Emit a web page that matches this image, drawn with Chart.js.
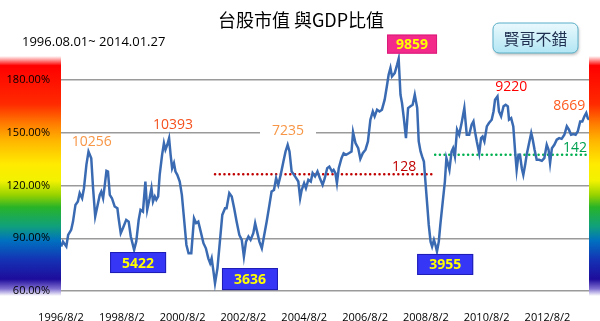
<!DOCTYPE html>
<html>
<head>
<meta charset="utf-8">
<script src="https://cdn.jsdelivr.net/npm/chart.js@4.4.0/dist/chart.umd.min.js"></script>
<style>
  html, body { margin: 0; padding: 0; background: #fff; }
  #wrap { width: 600px; height: 321px; }
</style>
</head>
<body>
<div id="wrap"><canvas id="myChart" width="600" height="321"></canvas></div>
<script>
// 日期 (以年為單位的小數) 與 台股市值/GDP 比值 (%)
const dates = [
  1996.59,1996.65,1996.76,1996.82,1996.92,1996.98,1997.06,1997.14,1997.20,1997.28,1997.34,1997.42,1997.49,1997.58,1997.64,1997.71,1997.78,1997.86,1997.91,1997.97,
  1998.02,1998.08,1998.13,1998.19,1998.26,1998.35,1998.44,1998.48,1998.55,1998.62,1998.73,1998.81,1998.88,1998.99,1999.06,1999.14,1999.20,1999.28,1999.36,1999.42,
  1999.50,1999.56,1999.61,1999.67,1999.72,1999.78,1999.83,1999.91,1999.97,2000.02,2000.08,2000.14,2000.19,2000.24,2000.30,2000.35,2000.41,2000.49,2000.56,2000.63,
  2000.71,2000.78,2000.87,
  2000.96,2001.03,2001.10,2001.18,2001.27,2001.35,2001.43,2001.49,2001.54,2001.60,2001.65,2001.73,2001.81,2001.89,2001.98,2002.03,2002.12,2002.20,2002.28,2002.36,
  2002.45,2002.53,2002.60,2002.67,2002.75,2002.82,2002.91,2002.97,2003.02,2003.11,2003.19,2003.26,2003.35,2003.44,2003.51,2003.59,2003.66,2003.73,2003.81,2003.90,
  2003.97,2004.04,2004.10,2004.17,2004.25,2004.32,2004.39,2004.45,2004.50,2004.58,2004.64,2004.72,2004.80,2004.86,2004.94,2005.02,2005.10,2005.19,
  2005.26,2005.34,2005.41,2005.50,2005.55,2005.61,2005.66,2005.72,2005.81,2005.88,2005.96,2006.05,2006.14,2006.19,2006.27,2006.36,2006.43,2006.51,2006.60,2006.68,
  2006.76,2006.84,2006.90,2006.98,2007.06,2007.14,2007.23,2007.31,2007.36,2007.42,2007.47,2007.56,2007.64,2007.69,2007.75,2007.80,2007.86,2007.93,2008.00,2008.08,
  2008.15,2008.22,2008.30,2008.35,2008.41,2008.46,2008.52,2008.57,2008.63,2008.68,2008.74,2008.79,2008.85,2008.90,2008.95,2009.01,2009.06,2009.14,2009.21,2009.26,
  2009.32,2009.36,2009.43,2009.48,2009.54,2009.61,
  2009.68,2009.77,2009.85,2009.93,2010.01,2010.09,2010.15,2010.20,2010.26,2010.34,2010.40,2010.45,2010.51,2010.59,2010.66,2010.75,2010.81,2010.86,2010.94,2010.99,
  2011.06,2011.14,2011.21,2011.28,2011.32,2011.39,2011.46,2011.52,2011.57,2011.63,2011.68,2011.74,2011.79,2011.85,2011.90,2011.98,2012.05,2012.09,2012.16,2012.23,
  2012.31,2012.40,2012.48,2012.56,2012.62,2012.67,2012.73,2012.81,2012.89,2012.97,2013.05,2013.14,2013.22,2013.29,2013.36,2013.44,2013.51,2013.58,2013.66,2013.73,
  2013.80,2013.86,2013.91,2013.95
];
const ratio = [
  85.3,88.1,85.3,91.9,94.8,99.5,109.0,110.9,115.7,112.8,118.5,131.8,139.4,135.6,118.5,102.4,108.1,114.7,116.6,112.8,
  119.5,128.4,128.0,114.7,112.8,108.1,107.1,101.4,92.9,95.7,100.5,99.5,91.0,83.4,88.1,100.5,106.2,105.2,122.3,106.2,
  112.8,118.5,110.9,113.8,111.9,113.8,126.1,137.5,144.2,140.4,143.2,147.0,137.5,129.9,132.8,128.0,126.1,122.3,114.7,101.4,
  86.2,81.5,81.5,
  101.4,98.6,99.5,93.8,87.2,84.3,78.6,75.8,78.6,71.0,64.4,72.9,88.1,103.3,107.1,107.1,115.7,113.8,107.1,99.5,
  91.9,89.1,79.6,88.1,91.0,89.1,92.9,98.6,94.8,88.1,84.3,91.0,99.5,109.0,116.6,117.5,124.2,120.4,126.1,133.7,
  139.4,143.2,139.4,128.0,126.1,124.2,122.3,112.8,117.5,121.4,118.5,123.3,122.3,127.1,125.2,128.0,124.2,120.4,
  124.2,129.9,130.8,128.0,128.9,127.0,121.4,129.9,135.6,138.4,137.5,138.4,139.4,150.4,144.2,141.3,135.2,138.4,140.4,145.1,
  157.5,162.2,159.4,163.2,162.2,163.2,168.9,177.4,183.1,186.9,182.1,184.0,188.8,192.2,171.7,167.0,158.4,147.0,164.1,165.1,
  166.0,171.7,164.1,145.1,139.4,136.6,133.7,122.3,109.0,97.6,88.1,85.3,89.1,86.2,82.4,88.1,97.6,110.9,122.3,135.6,
  131.8,129.0,139.4,141.3,136.6,151.8,
  148.9,156.5,164.1,148.9,148.9,154.6,156.5,150.8,145.1,138.4,147.0,147.9,145.1,153.7,155.6,157.5,162.2,168.9,170.8,162.2,
  159.4,165.1,166.0,165.1,157.5,158.4,153.7,139.4,128.9,137.5,137.5,129.9,126.1,131.8,137.5,144.2,149.9,147.0,140.4,134.7,
  134.7,134.1,135.6,143.2,140.4,132.8,141.3,143.2,146.1,147.0,146.6,148.9,153.7,151.8,148.9,149.3,148.9,150.8,156.5,156.5,
  159.4,161.3,158.4,157.5
];

// 兩條平均線 (起點, 終點, 位置)
const avgRed = { from: 2001.65, to: 2008.79, value: 126.5 };
const avgGreen = { from: 2008.89, to: 2013.95, value: 137.5 };

const xTickValues = [1996.585, 1998.585, 2000.585, 2002.585, 2004.585, 2006.585, 2008.585, 2010.585, 2012.585];
const xTickLabels = ['1996/8/2', '1998/8/2', '2000/8/2', '2002/8/2', '2004/8/2', '2006/8/2', '2008/8/2', '2010/8/2', '2012/8/2'];
const yTickValues = [60, 90, 120, 150, 180];

// 指數標註
const notes = [
  { text: '10256', x: 1997.60, y: 144.9, color: '#F79646' },
  { text: '10393', x: 2000.27, y: 154.6, color: '#F4511E' },
  { text: '7235',  x: 2004.05, y: 151.2, color: '#F79646', bg: true },
  { text: '9220',  x: 2011.39, y: 176.3, color: '#FF0000' },
  { text: '8669',  x: 2013.30, y: 165.1, color: '#FF5A1E' },
  { text: '142',   x: 2013.49, y: 141.2, color: '#00A050' },
  { text: '128',   x: 2007.87, y: 130.7, color: '#C00000' }
];
const boxes = [
  { text: '9859', x: 2008.13, y: 200.5, w: 50, h: 19, fill: '#F42A8B', stroke: '#D81B7A' },
  { text: '5422', x: 1999.12, y: 76.2,  w: 56, h: 21, fill: '#3636F6', stroke: '#1E1EB4' },
  { text: '3636', x: 2002.80, y: 66.8,  w: 56, h: 22, fill: '#3636F6', stroke: '#1E1EB4' },
  { text: '3955', x: 2009.22, y: 75.1,  w: 56, h: 21, fill: '#3636F6', stroke: '#1E1EB4' }
];

function rainbow(ctx, x, w) {
  const top = 56, h = 240;
  const g = ctx.createLinearGradient(0, top, 0, top + h);
  g.addColorStop(0, '#FFFFFF');
  g.addColorStop(0.04, '#FF0000');
  g.addColorStop(0.2, '#FF2A00');
  g.addColorStop(0.28, '#FF7A00');
  g.addColorStop(0.35, '#FFB400');
  g.addColorStop(0.45, '#FFEA00');
  g.addColorStop(0.52, '#F2F200');
  g.addColorStop(0.58, '#96D200');
  g.addColorStop(0.63, '#28B428');
  g.addColorStop(0.71, '#10A07C');
  g.addColorStop(0.77, '#0070C0');
  g.addColorStop(0.85, '#1432B4');
  g.addColorStop(0.93, '#1E0C9C');
  g.addColorStop(0.97, '#8070D0');
  g.addColorStop(1, '#FFFFFF');
  ctx.fillStyle = g;
  ctx.fillRect(x, top, w, h);
}

const decor = {
  id: 'decor',
  beforeDraw(chart) {
    const ctx = chart.ctx;
    ctx.save();
    ctx.fillStyle = '#fff';
    ctx.fillRect(0, 0, chart.width, chart.height);
    rainbow(ctx, 0, 61);
    rainbow(ctx, 589, 11);
    ctx.restore();
  },
  beforeDatasetsDraw(chart) {
    // 白底蓋住格線
    const ctx = chart.ctx, sx = chart.scales.x, sy = chart.scales.y;
    ctx.save();
    ctx.fillStyle = '#fff';
    notes.filter(n => n.bg).forEach(n => {
      ctx.fillRect(sx.getPixelForValue(n.x) - 28, sy.getPixelForValue(n.y) - 9, 56, 18);
    });
    ctx.restore();
  },
  afterDraw(chart) {
    const ctx = chart.ctx, sx = chart.scales.x, sy = chart.scales.y;
    ctx.save();
    ctx.textAlign = 'center';
    ctx.textBaseline = 'middle';

    ctx.font = '14px "Open Sans"';
    notes.forEach(n => {
      ctx.fillStyle = n.color;
      ctx.fillText(n.text, sx.getPixelForValue(n.x), sy.getPixelForValue(n.y));
    });

    boxes.forEach(b => {
      const cx = sx.getPixelForValue(b.x), cy = sy.getPixelForValue(b.y);
      ctx.fillStyle = b.fill;
      ctx.fillRect(cx - b.w / 2, cy - b.h / 2, b.w, b.h);
      ctx.strokeStyle = b.stroke;
      ctx.lineWidth = 1;
      ctx.strokeRect(cx - b.w / 2 + 0.5, cy - b.h / 2 + 0.5, b.w - 1, b.h - 1);
      ctx.fillStyle = '#FFFF00';
      ctx.font = 'bold 14px "Open Sans"';
      ctx.fillText(b.text, cx, cy + 1);
    });

    // 標題
    ctx.fillStyle = '#000';
    ctx.font = '18px "Noto Sans CJK TC"';
    ctx.fillText('台股市值 與GDP比值', 301, 20);
    ctx.textAlign = 'left';
    ctx.font = '13px "Open Sans"';
    ctx.fillText('1996.08.01~ 2014.01.27', 22, 42);

    // 按鈕
    const bx = 493, by = 23, bw = 85, bh = 30;
    ctx.shadowColor = 'rgba(0,0,0,0.25)';
    ctx.shadowOffsetX = 1; ctx.shadowOffsetY = 2; ctx.shadowBlur = 3;
    const g = ctx.createLinearGradient(0, by, 0, by + bh);
    g.addColorStop(0, '#EAF9FD');
    g.addColorStop(1, '#B2E6F4');
    ctx.fillStyle = g;
    ctx.beginPath();
    ctx.roundRect(bx, by, bw, bh, 6);
    ctx.fill();
    ctx.shadowColor = 'transparent';
    ctx.strokeStyle = '#5AAFC8';
    ctx.lineWidth = 1;
    ctx.stroke();
    ctx.textAlign = 'center';
    ctx.fillStyle = '#1F2F4F';
    ctx.font = '16px "Noto Sans CJK TC"';
    ctx.fillText('賢哥不錯', bx + bw / 2, by + bh / 2 + 1);
    ctx.restore();
  }
};

function renderChart() {
  const ctx = document.getElementById('myChart').getContext('2d');
  new Chart(ctx, {
    type: 'line',
    data: {
      datasets: [{
        label: '市值/GDP',
        data: dates.map((d, i) => ({ x: d, y: ratio[i] })),
        borderColor: '#3A6BB2',
        borderWidth: 2.5,
        pointRadius: 0,
        tension: 0,
        order: 1
      }, {
        label: 'avg1',
        data: [{ x: avgRed.from, y: avgRed.value }, { x: avgRed.to, y: avgRed.value }],
        borderColor: '#C00000',
        borderWidth: 2.5,
        borderDash: [0.1, 4.6],
        borderCapStyle: 'round',
        pointRadius: 0,
        order: 2
      }, {
        label: 'avg2',
        data: [{ x: avgGreen.from, y: avgGreen.value }, { x: avgGreen.to, y: avgGreen.value }],
        borderColor: '#00B050',
        borderWidth: 2.5,
        borderDash: [0.1, 4.6],
        borderCapStyle: 'round',
        pointRadius: 0,
        order: 2
      }]
    },
    options: {
      responsive: false,
      animation: false,
      devicePixelRatio: 1,
      layout: { padding: { top: 45, right: 11, left: 0, bottom: 0 } },
      plugins: { legend: { display: false }, tooltip: { enabled: false } },
      scales: {
        x: {
          type: 'linear',
          min: 1996.585,
          max: 2013.95,
          afterBuildTicks: s => { s.ticks = xTickValues.map(v => ({ value: v })); },
          afterFit: s => { s.height = 30; },
          grid: { display: false },
          border: { display: false },
          ticks: {
            autoSkip: false,
            maxRotation: 0,
            padding: 12,
            color: '#000',
            font: { family: 'Open Sans', size: 11 },
            callback: (v, i) => xTickLabels[i]
          }
        },
        y: {
          min: 60,
          max: 200,
          afterBuildTicks: s => { s.ticks = yTickValues.map(v => ({ value: v })); },
          afterFit: s => { s.width = 61; },
          grid: { color: '#9A9A9A', lineWidth: 1.5, drawTicks: false },
          border: { display: false },
          ticks: {
            padding: 11,
            color: '#000',
            font: { family: 'Open Sans', size: 11 },
            callback: v => v.toFixed(2) + '%'
          }
        }
      }
    },
    plugins: [decor]
  });
}

renderChart();
</script>
</body>
</html>
